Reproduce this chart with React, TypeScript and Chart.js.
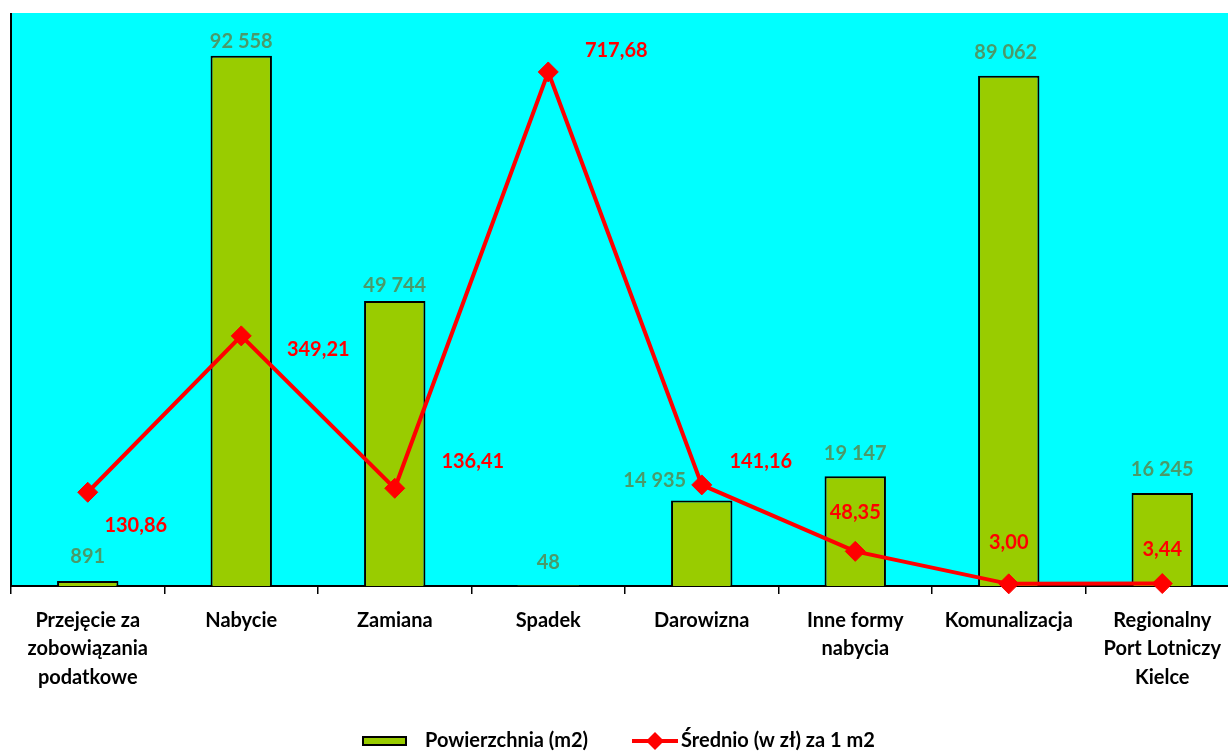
import React, { useEffect, useRef } from "react";
import { Chart, registerables } from "chart.js";

Chart.register(...registerables);

const categories: (string | string[])[] = [
  ["Przejęcie za", "zobowiązania", "podatkowe"],
  "Nabycie",
  "Zamiana",
  "Spadek",
  "Darowizna",
  ["Inne formy", "nabycia"],
  "Komunalizacja",
  ["Regionalny", "Port Lotniczy", "Kielce"],
];
const areaValues = [891, 92558, 49744, 48, 14935, 19147, 89062, 16245];
const avgPrice = [130.86, 349.21, 136.41, 717.68, 141.16, 48.35, 3.0, 3.44];
const areaLabel = "Powierzchnia (m2)";
const priceLabel = "Średnio (w zł) za 1 m2";

// label placement (style)
const barLabelOffsets = [[0, -24], [0, -14], [0, -15], [0, -23], [-47, -20], [0, -23], [-3, -23], [0, -23]];
const lineLabelOffsets = [[48, 33], [77, 14], [78, -27], [68, -21], [59, -23], [0, -39], [0, -41], [0, -34]];

const FONT = "Lato, 'Noto Sans', sans-serif";
const GREEN = "#99CC00";
const RED = "#FF0000";
const LABEL_GREEN = "#4a9a6a";

const fmtArea = (v: number) => String(v).replace(/\B(?=(\d{3})+(?!\d))/g, " ");
const fmtPrice = (v: number) => v.toFixed(2).replace(".", ",");

const customPlugin = {
  id: "custom",
  beforeDraw(chart: any) {
    const { ctx, chartArea } = chart;
    ctx.save();
    ctx.fillStyle = "#00FFFF";
    ctx.fillRect(chartArea.left, chartArea.top, chartArea.right - chartArea.left, chartArea.bottom - chartArea.top);
    ctx.restore();
  },
  afterDraw(chart: any) {
    const { ctx, chartArea } = chart;
    ctx.save();
    // left axis line
    ctx.strokeStyle = "#000";
    ctx.lineWidth = 2;
    ctx.beginPath();
    ctx.moveTo(chartArea.left, chartArea.top);
    ctx.lineTo(chartArea.left, chartArea.bottom);
    ctx.stroke();

    ctx.font = `bold 20px ${FONT}`;
    ctx.textAlign = "center";
    ctx.textBaseline = "middle";
    const barMeta = chart.getDatasetMeta(1);
    barMeta.data.forEach((el: any, i: number) => {
      const [dx, dy] = barLabelOffsets[i];
      ctx.fillStyle = LABEL_GREEN;
      ctx.fillText(fmtArea(areaValues[i]), el.x + dx, el.y + dy);
    });
    const lineMeta = chart.getDatasetMeta(0);
    lineMeta.data.forEach((el: any, i: number) => {
      const [dx, dy] = lineLabelOffsets[i];
      ctx.fillStyle = RED;
      ctx.fillText(fmtPrice(avgPrice[i]), el.x + dx, el.y + dy);
    });

    // legend
    const ly = 741;
    ctx.fillStyle = GREEN;
    ctx.fillRect(363, ly - 4, 43, 8);
    ctx.strokeStyle = "#000";
    ctx.lineWidth = 2;
    ctx.strokeRect(363, ly - 4, 43, 8);
    ctx.fillStyle = "#000";
    ctx.textAlign = "left";
    ctx.fillText(areaLabel, 425, ly);

    ctx.strokeStyle = RED;
    ctx.lineWidth = 4;
    ctx.beginPath();
    ctx.moveTo(632, ly);
    ctx.lineTo(678, ly);
    ctx.stroke();
    ctx.fillStyle = RED;
    ctx.beginPath();
    ctx.moveTo(655 - 9, ly);
    ctx.lineTo(655, ly - 9);
    ctx.lineTo(655 + 9, ly);
    ctx.lineTo(655, ly + 9);
    ctx.closePath();
    ctx.fill();
    ctx.fillStyle = "#000";
    ctx.fillText(priceLabel, 681, ly);
    ctx.restore();
  },
};

export default function App() {
  const ref = useRef<HTMLCanvasElement>(null);
  useEffect(() => {
    if (!ref.current) return;
    const chart = new Chart(ref.current, {
      type: "bar",
      data: {
        labels: categories,
        datasets: [
          {
            type: "line",
            label: priceLabel,
            data: avgPrice,
            yAxisID: "y1",
            borderColor: RED,
            backgroundColor: RED,
            borderWidth: 4,
            pointStyle: "rectRot",
            pointRadius: 10,
            pointBackgroundColor: RED,
            pointBorderColor: RED,
            pointBorderWidth: 1,
            tension: 0,
            order: 0,
            clip: false,
          } as any,
          {
            type: "bar",
            label: areaLabel,
            data: areaValues,
            yAxisID: "y",
            backgroundColor: GREEN,
            borderColor: "#000",
            borderWidth: (c: any) => (c.raw < 200 ? 0 : 2),
            barPercentage: 0.8,
            categoryPercentage: 0.5,
            order: 1,
          } as any,
        ],
      },
      options: {
        responsive: false,
        animation: false,
        layout: { padding: { left: 10, top: 13, right: 8, bottom: 0 } },
        plugins: { legend: { display: false }, tooltip: { enabled: false } },
        scales: {
          x: {
            grid: {
              offset: true,
              drawOnChartArea: false,
              drawTicks: true,
              tickLength: 8,
              color: "#000",
              lineWidth: 1.5,
            },
            border: { display: true, color: "#000", width: 2 },
            ticks: {
              color: "#000",
              font: { family: FONT, size: 20, weight: "bold", lineHeight: 1.43 },
              padding: 12,
              maxRotation: 0,
              autoSkip: false,
            },
            afterFit: (s: any) => {
              s.height = 166;
            },
          },
          y: { display: false, min: 0, max: 100000 },
          y1: { display: false, min: 0, max: 800 },
        },
      } as any,
      plugins: [customPlugin],
    });
    return () => chart.destroy();
  }, []);
  return (
    <div style={{ position: "fixed", left: 0, top: 0, width: 1228, height: 752, overflow: "hidden", background: "#fff" }}>
      <canvas ref={ref} width={1250} height={752} style={{ width: 1250, height: 752, display: "block" }} />
    </div>
  );
}
